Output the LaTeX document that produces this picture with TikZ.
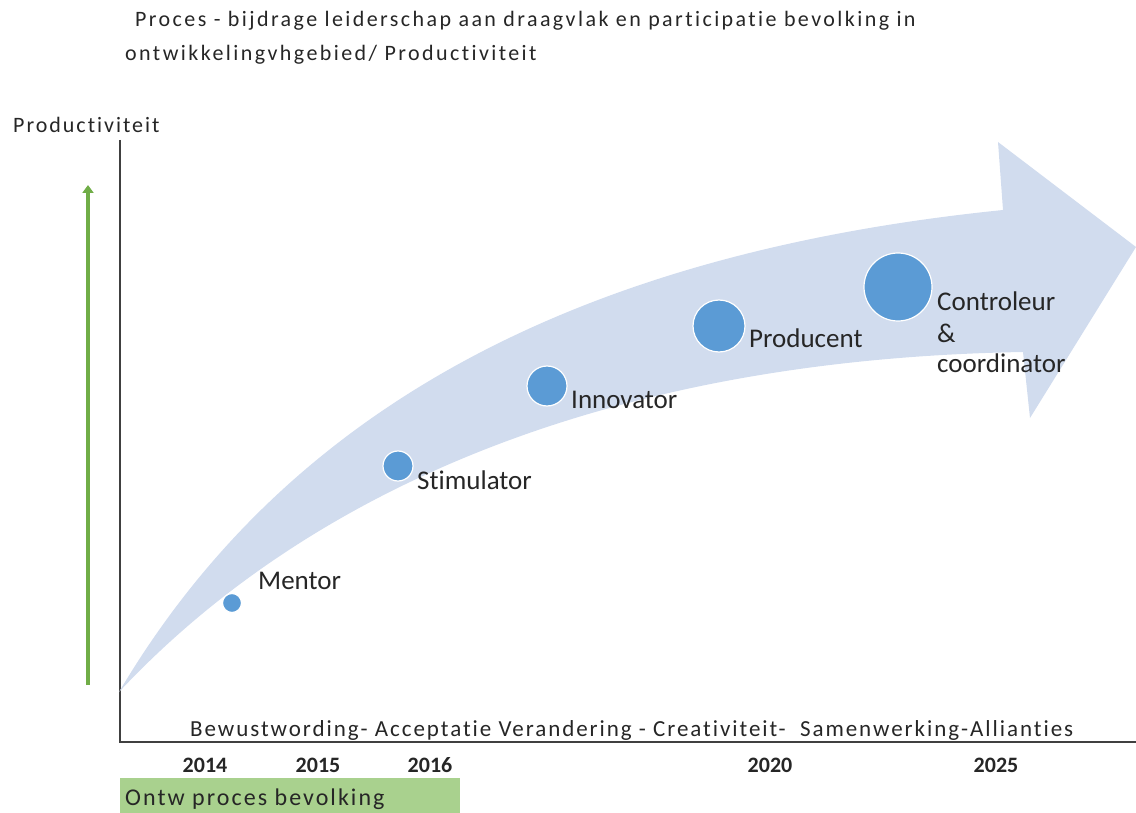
\documentclass[tikz,border=0pt]{standalone}
\usepackage{fontspec}
\setmainfont{Carlito}[Ligatures=NoCommon]
\newfontfamily\titlefont[LetterSpace=11,Ligatures=NoCommon]{Carlito}
\newfontfamily\ylabfont[LetterSpace=9,Ligatures=NoCommon]{Carlito}
\newfontfamily\bottomfont[LetterSpace=8.5,Ligatures=NoCommon]{Carlito}
\usetikzlibrary{arrows.meta}
\definecolor{arrowblue}{HTML}{D1DCEE}
\definecolor{dotblue}{HTML}{5B9BD5}
\definecolor{axisgreen}{HTML}{70AD47}
\definecolor{boxgreen}{HTML}{A9D18E}
\definecolor{txt}{HTML}{262626}
\definecolor{axisgray}{HTML}{404040}
\begin{document}
\begin{tikzpicture}[x=1pt,y=-1pt,
  dot/.style={circle,fill=dotblue,draw=white,line width=1.2pt,inner sep=0pt,minimum size=#1},
  lbl/.style={anchor=base west,inner sep=0pt,text=txt,font=\fontsize{27}{31}\selectfont},
  ttl/.style={anchor=base west,inner sep=0pt,text=txt,font=\titlefont\fontsize{22}{26}\selectfont},
  yr/.style={anchor=base,inner sep=0pt,text=txt,font=\bfseries\fontsize{22}{26}\selectfont},
  axisline/.style={draw=axisgray,line width=2pt}]
\useasboundingbox (0,0) rectangle (1136,813);

% axes
\coordinate (ytop) at (120,140);
\coordinate (origin) at (120,742);
\coordinate (xend) at (1136,742);
\draw[axisline] (ytop) -- (origin) -- (xend);

% green productivity arrow
\coordinate (gbot) at (88,685);
\coordinate (gtop) at (88,185);
\draw[axisgreen,line width=4pt,-{Triangle[width=11pt,length=8pt]}] (gbot) -- (gtop);

% big curved arrow
\coordinate (tail) at (119,692);
\coordinate (upj) at (1003,210);
\coordinate (upb) at (998,142);
\coordinate (tip) at (1136,247);
\coordinate (lob) at (1030,418);
\coordinate (loj) at (1023,352);
\fill[arrowblue] (tail) .. controls (280,420) and (560,255) .. (upj)
  -- (upb) -- (tip) -- (lob) -- (loj)
  .. controls (560,360) and (280,520) .. (tail) -- cycle;

% dots
\node[dot=19pt] (mentor) at (232,603) {};
\node[dot=30pt] (stim) at (398,466) {};
\node[dot=40pt] (innov) at (547,386) {};
\node[dot=52pt] (prod) at (719,326) {};
\node[dot=68pt] (contr) at (898,287) {};

% labels
\node[lbl] (lmentor) at (258,589) {Mentor};
\node[lbl] (lstim) at (417,489) {Stimulator};
\node[lbl] (linnov) at (571,408) {Innovator};
\node[lbl] (lprod) at (749,348) {Producent};
\node[lbl] (lcontr1) at (937,310) {Controleur};
\node[lbl] (lcontr2) at (937,342) {\&};
\node[lbl] (lcontr3) at (937,372) {coordinator};

% titles
\node[ttl] (title1) at (135,27) {Proces - bijdrage leiderschap aan draagvlak en participatie bevolking in};
\node[ttl] (title2) at (125,61) {ontwikkelingvhgebied/ Productiviteit};
\node[anchor=base west,inner sep=0pt,text=txt,font=\ylabfont\fontsize{22}{26}\selectfont] (ylabel) at (13,133) {Productiviteit};

% bottom text
\node[anchor=base west,inner sep=0pt,text=txt,font=\bottomfont\fontsize{23}{27}\selectfont] (phases) at (190,736)
  {Bewustwording- Acceptatie Verandering - Creativiteit-\ \ Samenwerking-Allianties};

% years
\node[yr] (y2014) at (205,772) {2014};
\node[yr] (y2015) at (318,772) {2015};
\node[yr] (y2016) at (430,772) {2016};
\node[yr] (y2020) at (770,772) {2020};
\node[yr] (y2025) at (996,772) {2025};

% green box
\fill[boxgreen] (120,778) rectangle (460,813);
\node[anchor=base west,inner sep=0pt,text=txt,font=\bottomfont\fontsize{24}{28}\selectfont] (ontw) at (125,805) {Ontw proces bevolking};
\end{tikzpicture}
\end{document}
